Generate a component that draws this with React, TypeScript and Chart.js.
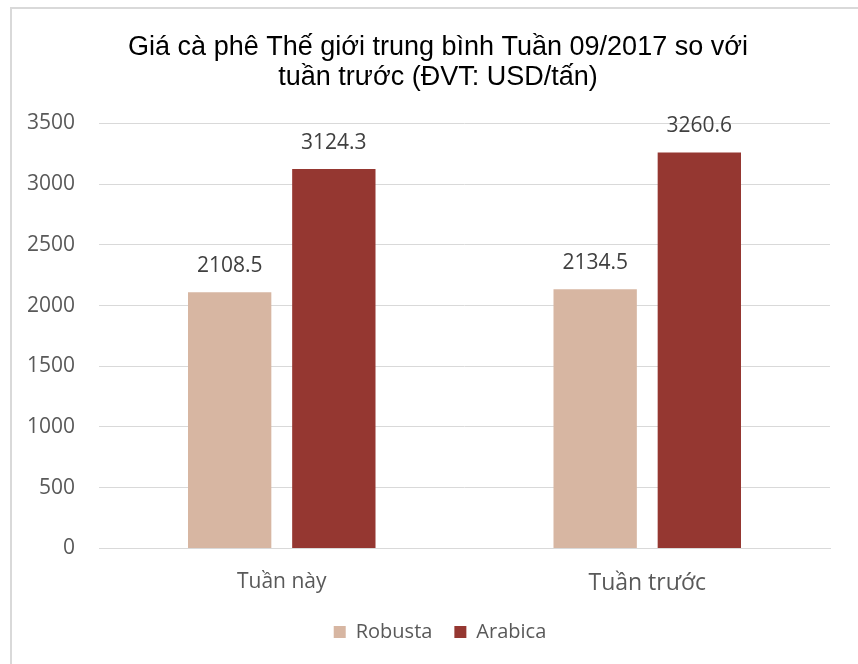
import React, { useEffect, useRef } from "react";
import { Chart, registerables } from "chart.js";

Chart.register(...registerables);

const categories = ["Tuần này", "Tuần trước"];
const robusta = [2108.5, 2134.5];
const arabica = [3124.3, 3260.6];
const seriesNames = ["Robusta", "Arabica"];
const titleLines = ["Giá cà phê Thế giới trung bình Tuần 09/2017 so với", "tuần trước (ĐVT: USD/tấn)"];
const yMin = 0;
const yMax = 3500;
const yStep = 500;

const TICK_FONT = "'Open Sans', sans-serif";

const dataLabelPlugin = {
  id: "dataLabels",
  afterDatasetsDraw(chart: any) {
    const ctx = chart.ctx;
    ctx.save();
    ctx.font = `21px ${TICK_FONT}`;
    ctx.fillStyle = "#404040";
    ctx.textAlign = "center";
    ctx.textBaseline = "middle";
    chart.data.datasets.forEach((ds: any, i: number) => {
      const meta = chart.getDatasetMeta(i);
      meta.data.forEach((el: any, j: number) => {
        const v = ds.data[j];
        ctx.fillText(v.toFixed(1), el.x, el.y - 26);
      });
    });
    ctx.restore();
  },
};

const boxShiftPlugin = {
  id: "boxShift",
  afterLayout(chart: any) {
    const lg = chart.legend;
    if (lg) {
      lg.left += 21;
      lg.right += 21;
    }
    const tb = chart.titleBlock;
    if (tb) {
      tb.left += 19;
      tb.right += 19;
    }
  },
};

export default function App() {
  const ref = useRef<HTMLCanvasElement | null>(null);

  useEffect(() => {
    if (!ref.current) return;
    const chart = new Chart(ref.current, {
      type: "bar",
      data: {
        labels: categories,
        datasets: [
          {
            label: seriesNames[0],
            data: robusta,
            backgroundColor: "#D7B6A2",
            categoryPercentage: 0.57,
            barPercentage: 0.8,
          },
          {
            label: seriesNames[1],
            data: arabica,
            backgroundColor: "#953731",
            categoryPercentage: 0.57,
            barPercentage: 0.8,
          },
        ],
      },
      options: {
        animation: false,
        responsive: false,
        maintainAspectRatio: false,
        layout: { padding: { top: 18, right: 28, bottom: 12, left: 8 } },
        plugins: {
          title: {
            display: true,
            text: titleLines,
            color: "#000000",
            font: { family: "'Liberation Sans', Arial, sans-serif", size: 27, weight: "normal", lineHeight: 1.1 },
            padding: { top: 15, bottom: 31 },
          },
          legend: {
            display: true,
            position: "bottom",
            labels: {
              boxWidth: 12,
              boxHeight: 12,
              color: "#595959",
              font: { family: TICK_FONT, size: 20 },
              padding: 22,
            },
          },
          tooltip: { enabled: false },
        },
        scales: {
          x: {
            grid: { display: false, drawTicks: false },
            border: { display: true, color: "#d9d9d9", width: 1 },
            ticks: {
              color: "#595959",
              font: (c: any) => ({ family: TICK_FONT, size: c.index === 1 ? 23 : 21 }),
              padding: 21,
            },
            afterFit: (scale: any) => {
              scale.height = scale.height - 18;
            },
          },
          y: {
            min: yMin,
            max: yMax,
            grid: { color: "#d9d9d9", lineWidth: 1, drawTicks: false },
            border: { display: false },
            ticks: {
              stepSize: yStep,
              color: "#595959",
              font: { family: TICK_FONT, size: 21 },
              padding: 24,
              callback: (v: any) => String(v),
            },
            afterFit: (scale: any) => {
              scale.width = 91;
            },
          },
        },
      },
      plugins: [dataLabelPlugin, boxShiftPlugin],
    });
    return () => chart.destroy();
  }, []);

  return (
    <div style={{ position: "fixed", left: 0, top: 0, width: 858, height: 664, overflow: "hidden", background: "#ffffff" }}>
      <div
        style={{
          position: "absolute",
          left: 10,
          top: 7,
          width: 900,
          height: 700,
          border: "2px solid #d9d9d9",
          boxSizing: "border-box",
        }}
      />
      <canvas ref={ref} width={858} height={664} style={{ position: "absolute", left: 0, top: 0, width: 858, height: 664 }} />
    </div>
  );
}
